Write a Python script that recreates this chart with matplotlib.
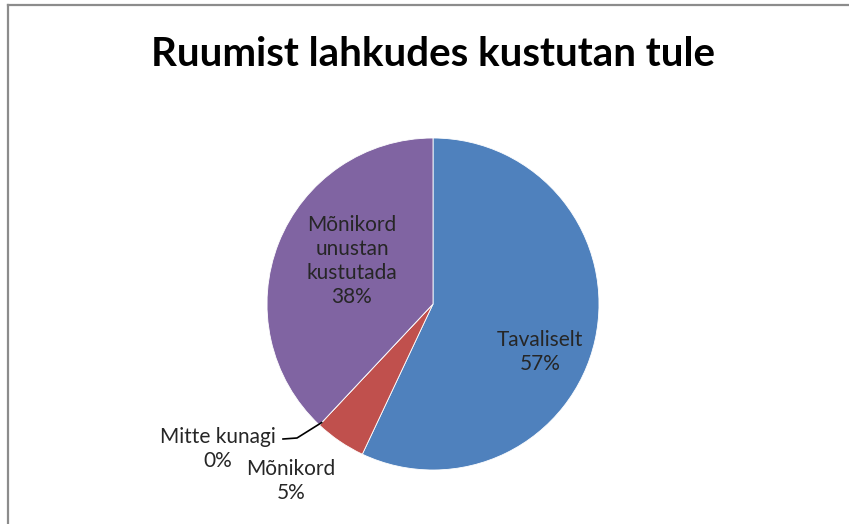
import matplotlib
matplotlib.use("Agg")
import matplotlib.pyplot as plt
from matplotlib.lines import Line2D
import numpy as np

title = "Ruumist lahkudes kustutan tule"
categories = ["Tavaliselt", "Mõnikord", "Mitte kunagi", "Mõnikord\nunustan\nkustutada"]
values = [57, 5, 0, 38]
colors = ["#4F81BD", "#C0504D", "#9BBB59", "#8064A2"]

W, H = 849, 524
fig = plt.figure(figsize=(W / 100, H / 100), dpi=100)
fig.patch.set_facecolor("white")

cx, cy, R = 433, 304, 166  # pixel layout of the pie
ax = fig.add_axes([0, 0, 1, 1])
ax.axis("off")

wedges, _ = ax.pie(values, colors=colors, startangle=90, counterclock=False,
                   radius=1.0, center=(0, 0),
                   wedgeprops=dict(edgecolor="white", linewidth=0.6))
ax.set_aspect("auto")
ax.set_xlim(-cx / R, (W - cx) / R)
ax.set_ylim(-(H - cy) / R, cy / R)

total = sum(values)
pcts = [f"{round(v / total * 100):d}%" for v in values]

def px(x, y):
    return ((x - cx) / R, (cy - y) / R)

label_px = [(540, 352), (291, 481), (218, 449), (352, 261)]
font = ["Lato", "DejaVu Sans"]
for i, (cat, p) in enumerate(zip(categories, pcts)):
    x, y = px(*label_px[i])
    ax.text(x, y, f"{cat}\n{p}", ha="center", va="center", fontsize=15,
            family=font, color="#262626", linespacing=1.25)

# leader line for the zero-size slice
w = wedges[2]
ang = np.deg2rad(w.theta1)
ex, ey = np.cos(ang), np.sin(ang)
a = px(283, 439)
b = px(297, 438)
ax.add_line(Line2D([a[0], b[0], ex * 0.98], [a[1], b[1], ey * 0.98],
                   color="black", linewidth=1.2))

fig.text(433 / W, 1 - 54 / H, title, ha="center", va="center",
         fontsize=29, fontweight="bold", family=font, color="black")

# outer frame (top and left visible)
fig.add_artist(Line2D([7.5 / W, 1], [1 - 4.5 / H, 1 - 4.5 / H],
                      transform=fig.transFigure, color="#8c8c8c", linewidth=1.6))
fig.add_artist(Line2D([7.5 / W, 7.5 / W], [0, 1 - 4.5 / H],
                      transform=fig.transFigure, color="#8c8c8c", linewidth=1.6))

fig.savefig("out.png", dpi=100)
